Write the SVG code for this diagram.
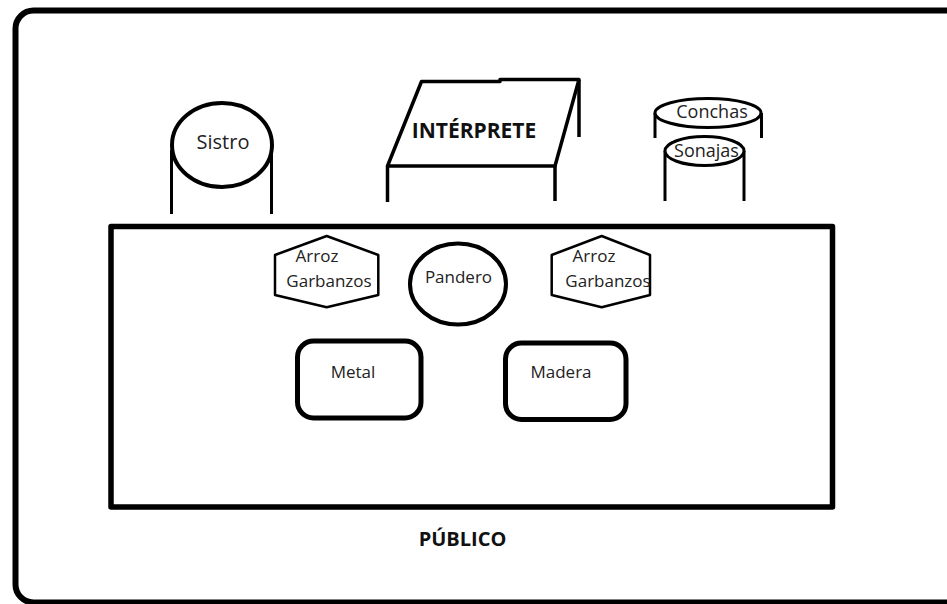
<svg xmlns="http://www.w3.org/2000/svg" width="947" height="604" viewBox="0 0 947 604">
<style>
  .ln { fill: none; stroke: #000; stroke-linecap: butt; stroke-linejoin: round; }
  .sh { fill: #fff; stroke: #000; stroke-linejoin: round; }
  text { font-family: "Open Sans", "Noto Sans", "Liberation Sans", sans-serif; fill: #222; }
  .t { font-size: 18px; text-anchor: middle; }
  .b { font-weight: bold; font-size: 21px; text-anchor: middle; fill: #111; }
</style>
<rect width="947" height="604" fill="#fff"/>
<g id="sala">
  <rect x="15.5" y="10.5" width="960" height="592" rx="18" class="ln" stroke-width="6"/>
</g>
<g id="escenario">
  <rect x="111" y="226.5" width="721.5" height="280.5" class="ln" stroke-width="5.5"/>
</g>
<g id="sistro">
  <line x1="171.5" y1="150" x2="171.5" y2="214" class="ln" stroke-width="3"/>
  <line x1="271.5" y1="150" x2="271.5" y2="214" class="ln" stroke-width="3"/>
  <ellipse cx="222" cy="145" rx="50" ry="42" class="sh" stroke-width="4"/>
  <text x="223" y="149" class="t" style="font-size:20px">Sistro</text>
</g>
<g id="interprete">
  <polyline points="387.5,166 387.5,202" class="ln" stroke-width="3.5"/>
  <polyline points="555,166 555,201" class="ln" stroke-width="3.5"/>
  <polyline points="579,80 579,137" class="ln" stroke-width="3.5"/>
  <path d="M421.5,81.5 L500,81.5 L500,79.5 L579,79.5 L555,166 L387.5,166 Z" class="sh" stroke-width="3.5"/>
  <text x="474" y="138" class="b">INTÉRPRETE</text>
</g>
<g id="conchas">
  <line x1="655" y1="113" x2="655" y2="138" class="ln" stroke-width="3"/>
  <line x1="761.5" y1="113" x2="761.5" y2="138" class="ln" stroke-width="3"/>
  <ellipse cx="708" cy="113" rx="53" ry="14.5" class="sh" stroke-width="3"/>
  <text x="712" y="118" class="t">Conchas</text>
</g>
<g id="sonajas">
  <line x1="665" y1="151" x2="665" y2="201" class="ln" stroke-width="3"/>
  <line x1="744" y1="151" x2="744" y2="201" class="ln" stroke-width="3"/>
  <ellipse cx="704.5" cy="151" rx="39.5" ry="14.5" class="sh" stroke-width="3"/>
  <text x="706.5" y="157" class="t">Sonajas</text>
</g>
<g id="arroz-izq">
  <polygon points="326.7,236 378.3,255 378.3,295 326.7,307.3 275,295 275,255" class="sh" stroke-width="2.5"/>
  <text x="317" y="262" class="t" style="font-size:17px">Arroz</text>
  <text x="329" y="287" class="t" style="font-size:17px">Garbanzos</text>
</g>
<g id="pandero">
  <ellipse cx="458" cy="284" rx="48" ry="40.5" class="sh" stroke-width="4"/>
  <text x="458.5" y="283" class="t" style="font-size:17px">Pandero</text>
</g>
<g id="arroz-der">
  <polygon points="601.7,236 650,255 650,295 601.7,307.3 551.7,295 551.7,255" class="sh" stroke-width="2.5"/>
  <text x="594" y="262" class="t" style="font-size:17px">Arroz</text>
  <text x="608" y="287" class="t" style="font-size:17px">Garbanzos</text>
</g>
<g id="metal">
  <rect x="297.5" y="341" width="123.5" height="77" rx="16" class="sh" stroke-width="5"/>
  <text x="353" y="378" class="t" style="font-size:17px">Metal</text>
</g>
<g id="madera">
  <rect x="505.5" y="343" width="120.5" height="76.5" rx="16" class="sh" stroke-width="5"/>
  <text x="561" y="378" class="t" style="font-size:17px">Madera</text>
</g>
<g id="publico">
  <text x="462.5" y="546" class="b" style="font-size:20px">PÚBLICO</text>
</g>
<g id="connectors"></g>
</svg>
